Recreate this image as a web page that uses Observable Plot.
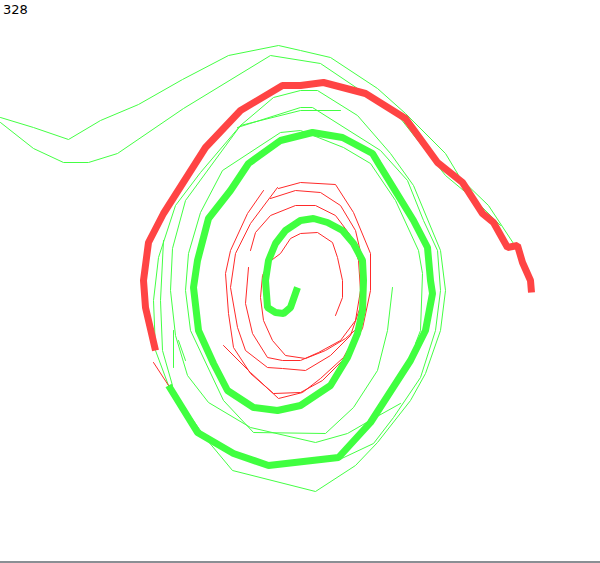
<!DOCTYPE html>
<html>
<head>
<meta charset="utf-8">
<script src="https://cdn.jsdelivr.net/npm/d3@7"></script>
<script src="https://cdn.jsdelivr.net/npm/@observablehq/plot@0.6"></script>
<style>
  html, body { margin: 0; padding: 0; background: #fff; }
  #wrap { position: relative; width: 600px; height: 563px; overflow: hidden; }
  #label { position: absolute; left: 3px; top: 2px; font: 13px "DejaVu Sans", sans-serif; color: #000; }
  #bottom { position: absolute; left: 0; top: 561px; width: 600px; height: 2px; background: #8a8f94; }
</style>
</head>
<body>
<div id="wrap">
  <div id="chart"></div>
  <div id="label">328</div>
  <div id="bottom"></div>
</div>
<script>
// Thick green spiral (centre outward)
const thickGreen = [[297,287],[290,307],[283,313],[275,312],[267,307],[265,280],[268,260],[275,243],[285,230],[300,220],[313,218],[327,222],[342,230],[353,243],[362,260],[363,280],[362,310],[357,333],[347,357],[330,385],[300,405],[277,410],[253,407],[227,390],[213,363],[198,330],[193,287],[197,260],[208,218],[230,190],[248,163],[280,140],[300,135],[312,132],[342,137],[372,153],[378,163],[413,220],[427,247],[430,280],[432,293],[425,330],[410,360],[370,422],[338,457],[268,465],[233,453],[197,432],[168,385]];

// Thick red arc
const thickRed = [[531,292],[530,280],[522,262],[517,245],[507,247],[493,222],[482,213],[462,182],[437,162],[405,118],[365,93],[323,82],[300,85],[282,85],[240,110],[205,147],[163,213],[148,242],[143,280],[145,307],[155,350]];

// Thin green lines
const thinGreen1 = [[0,117],[33,127],[68,139],[100,120],[138,104],[182,79],[228,55],[278,45],[300,50],[330,57],[377,88],[405,113],[445,153],[460,178],[488,205],[513,243]];
const thinGreen2 = [[0,122],[33,148],[63,162],[88,162],[117,153],[183,108],[270,55],[320,63],[363,92],[400,118],[423,147],[445,175],[475,200],[500,225]];
const thinGreen3 = [[240,125],[273,97],[300,90],[317,90],[357,115],[390,153],[413,185],[440,250],[445,290],[440,330],[425,373],[410,400],[377,442],[355,465],[315,491],[232,470],[207,440],[168,385],[155,350],[153,300],[158,257],[175,205],[200,172],[240,125]];
const thinGreen4 = [[237,127],[300,107],[312,107],[380,150],[407,180],[423,220],[437,250],[440,290],[435,330],[420,377],[393,417],[373,443],[337,460]];
const thinGreen5 = [[392,287],[387,330],[377,370],[353,407],[325,433],[253,432],[223,400],[190,330],[185,290],[188,253],[200,212],[222,170],[280,132],[300,130],[343,147],[370,163],[395,200],[418,250],[422,273],[420,330],[415,343]];
const thinGreen6 = [[400,403],[373,418],[347,433],[315,442],[250,427],[208,402],[187,375],[175,335],[170,290],[172,248],[185,200],[240,125],[300,110],[340,110]];
const thinGreen7 = [[173,330],[173,367]];
const thinGreen8 = [[178,340],[185,360]];
const thinGreen9 = [[163,240],[160,300],[162,350],[172,385]];

// Thin red lines
const thinRed1 = [[335,315],[342,297],[342,280],[337,257],[332,242],[317,232],[300,233],[290,238],[280,253],[268,262],[262,275],[260,297],[263,320],[272,340],[285,355],[305,358],[325,350],[345,338],[360,325]];
const thinRed2 = [[248,267],[245,303],[252,333],[267,357],[282,360],[300,360],[318,352],[340,340],[355,320],[360,290],[358,260],[350,235],[335,215],[315,205],[295,205],[270,215],[255,232],[250,250]];
const thinRed3 = [[277,187],[250,223],[235,253],[230,287],[237,327],[245,350],[267,367],[282,368],[305,370],[330,355],[350,335],[362,300],[362,260],[355,230],[340,205],[320,192],[295,190],[270,198]];
const thinRed4 = [[263,190],[247,213],[230,250],[225,273],[228,313],[233,347],[250,373],[273,393],[300,392],[322,380],[345,357],[362,328],[370,290],[370,253],[353,212],[335,184],[300,182],[278,188]];
const thinRed5 = [[223,345],[250,372],[278,398],[302,392],[320,378],[343,357],[358,330]];
const thinRed6 = [[153,362],[170,388]];

const thinGreens = [thinGreen1, thinGreen2, thinGreen3, thinGreen4, thinGreen5, thinGreen6, thinGreen7, thinGreen8, thinGreen9];
const thinReds = [thinRed1, thinRed2, thinRed3, thinRed4, thinRed5, thinRed6];

const toRows = (arr, id) => arr.map(([x, y]) => ({x, y, id}));
const greenRows = thinGreens.flatMap((a, i) => toRows(a, "g" + i));
const redRows = thinReds.flatMap((a, i) => toRows(a, "r" + i));

const chart = Plot.plot({
  width: 600,
  height: 563,
  margin: 0,
  x: {domain: [0, 600], range: [0, 600], axis: null},
  y: {domain: [0, 563], range: [0, 563], axis: null},
  style: {background: "#fff"},
  marks: [
    Plot.line(greenRows, {x: "x", y: "y", z: "id", stroke: "#44ff44", strokeWidth: 1}),
    Plot.line(redRows, {x: "x", y: "y", z: "id", stroke: "#ff2a2a", strokeWidth: 1}),
    Plot.line(toRows(thickGreen, "tg"), {x: "x", y: "y", stroke: "#40ff40", strokeWidth: 7, strokeLinejoin: "miter", strokeLinecap: "butt"}),
    Plot.line(toRows(thickRed, "tr"), {x: "x", y: "y", stroke: "#ff4444", strokeWidth: 7, strokeLinejoin: "miter", strokeLinecap: "butt"})
  ]
});
document.getElementById("chart").appendChild(chart);
</script>
</body>
</html>
